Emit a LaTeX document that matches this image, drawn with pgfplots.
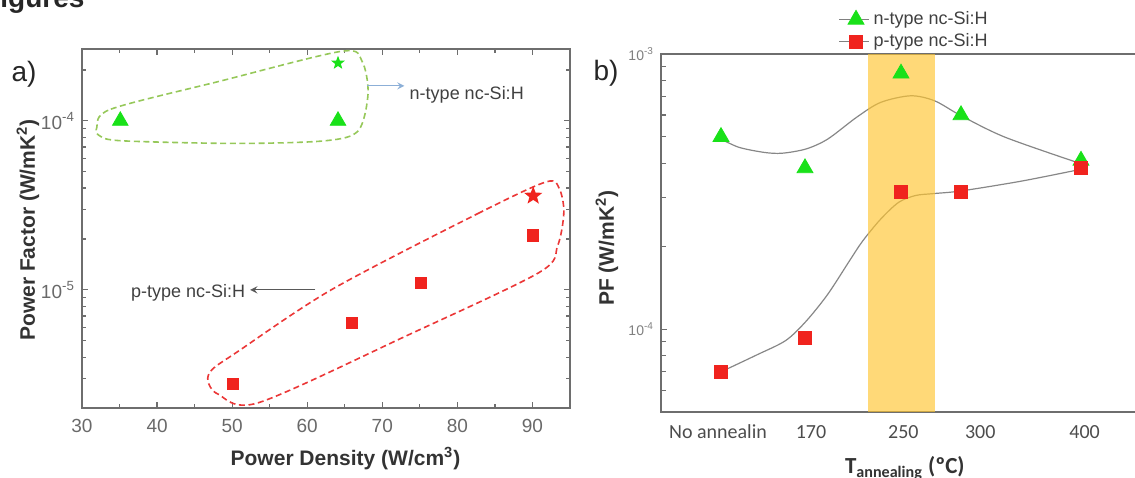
\documentclass[border=0pt]{standalone}
\usepackage{pgfplots}
\pgfplotsset{compat=1.18}
\usepackage{fontspec}
\setmainfont{Liberation Sans}
\newfontfamily\calibri{Carlito}

\definecolor{ngreen}{RGB}{25,225,25}
\definecolor{pred}{RGB}{240,35,30}
\definecolor{loopgreen}{RGB}{150,200,90}
\definecolor{loopred}{RGB}{235,55,55}
\definecolor{axgray}{RGB}{110,110,110}
\definecolor{lblgray}{RGB}{105,105,105}
\definecolor{band}{RGB}{255,197,47}
\definecolor{fitgray}{RGB}{135,135,135}
\definecolor{arrblue}{RGB}{140,175,215}

% filled five-pointed star
\pgfdeclareplotmark{fstar}{%
  \pgfpathmoveto{\pgfqpointpolar{90}{\pgfplotmarksize}}%
  \pgfpathlineto{\pgfqpointpolar{126}{0.42\pgfplotmarksize}}%
  \pgfpathlineto{\pgfqpointpolar{162}{\pgfplotmarksize}}%
  \pgfpathlineto{\pgfqpointpolar{198}{0.42\pgfplotmarksize}}%
  \pgfpathlineto{\pgfqpointpolar{234}{\pgfplotmarksize}}%
  \pgfpathlineto{\pgfqpointpolar{270}{0.42\pgfplotmarksize}}%
  \pgfpathlineto{\pgfqpointpolar{306}{\pgfplotmarksize}}%
  \pgfpathlineto{\pgfqpointpolar{342}{0.42\pgfplotmarksize}}%
  \pgfpathlineto{\pgfqpointpolar{18}{\pgfplotmarksize}}%
  \pgfpathlineto{\pgfqpointpolar{54}{0.42\pgfplotmarksize}}%
  \pgfpathclose\pgfusepathqfill}

\begin{document}
\begin{tikzpicture}
\path[use as bounding box] (0,0) rectangle (567.5pt,-238.5pt);
\clip (0,0) rectangle (567.5pt,-238.5pt);

\node[anchor=base west, inner sep=0, font=\bfseries\fontsize{14}{16}\selectfont, text=black!85] at (0pt,-3.5pt) {igures};
\node[font=\fontsize{14}{16}\selectfont, text=black!85] at (12pt,-37pt) {a)};
\node[font=\fontsize{14}{16}\selectfont, text=black!85] at (303pt,-36.5pt) {b)};

% ---------- panel a
\begin{axis}[
  at={(41pt,-204pt)}, anchor=south west, scale only axis,
  width=244pt, height=179.5pt,
  xmin=30, xmax=95, ymode=log, ymin=2e-6, ymax=2.66e-4,
  xtick={30,40,...,90}, minor xtick={35,45,...,95},
  ytick={1e-5,1e-4}, yticklabels={10\textsuperscript{-5},10\textsuperscript{-4}},
  minor ytick={3e-6,4e-6,5e-6,6e-6,7e-6,8e-6,9e-6,2e-5,3e-5,4e-5,5e-5,6e-5,7e-5,8e-5,9e-5,2e-4},
  tick align=inside, major tick length=3pt, minor tick length=1.8pt,
  axis line style={axgray, line width=0.9pt},
  tick style={axgray, line width=0.6pt},
  /pgf/number format/assume math mode=true,
  tick label style={font=\fontsize{9.5}{11}\selectfont, text=lblgray},
  xticklabel style={yshift=-2pt},
  xlabel={Power Density (W/cm\textsuperscript{3})},
  ylabel={Power Factor (W/mK\textsuperscript{2})},
  xlabel style={font=\bfseries\fontsize{10.5}{12}\selectfont, text=black!80, at={(axis description cs:0.54,-0.159)}, anchor=base},
  ylabel style={font=\bfseries\fontsize{10.5}{12}\selectfont, text=black!80, at={(axis description cs:-0.111,0.496)}, anchor=center},
]
\addplot[only marks, mark=triangle*, mark size=4.5pt, color=ngreen] coordinates {(35.1,1e-4) (64.1,1e-4)};
\addplot[only marks, mark=fstar, mark size=3.6pt, color=ngreen] coordinates {(64.1,2.2e-4)};
\addplot[only marks, mark=square*, mark size=2.8pt, color=pred] coordinates {(50.1,2.77e-6) (65.9,6.4e-6) (75.15,1.1e-5) (90.1,2.1e-5)};
\addplot[only marks, mark=fstar, mark size=4.8pt, color=pred] coordinates {(90.1,3.6e-5)};

\draw[loopgreen, line width=0.8pt, dash pattern=on 3pt off 1.8pt] plot[smooth cycle] coordinates {
  (axis cs:31.97,9.13e-5) (axis cs:33.84,1.172e-4) (axis cs:48.59,1.726e-4) (axis cs:64.6,2.58e-4)
  (axis cs:67.3,2.25e-4) (axis cs:68.1,1.45e-4) (axis cs:66.79,8.73e-5) (axis cs:62.36,7.62e-5)
  (axis cs:50.56,7.35e-5) (axis cs:35.31,7.62e-5) (axis cs:32.36,8.15e-5)};
\draw[loopred, line width=0.8pt, dash pattern=on 3pt off 1.8pt] plot[smooth cycle] coordinates {
  (axis cs:91.87,4.36e-5) (axis cs:83.02,2.87e-5) (axis cs:63.34,1.009e-5) (axis cs:50.56,4.26e-6)
  (axis cs:47.36,3.39e-6) (axis cs:46.77,2.90e-6) (axis cs:48.10,2.42e-6) (axis cs:53.51,2.15e-6)
  (axis cs:73.18,5.34e-6) (axis cs:90.89,1.267e-5) (axis cs:93.35,1.82e-5) (axis cs:94.18,2.87e-5)
  (axis cs:93.59,3.95e-5)};

\draw[arrblue, line width=0.6pt, -stealth] (axis cs:68.0,1.61e-4) -- (axis cs:72.95,1.61e-4);
\node[anchor=base west, inner sep=0, font=\fontsize{9}{10}\selectfont, text=black!75] at (axis cs:73.6,1.33e-4) {n-type nc-Si:H};
\draw[black!65, line width=0.6pt, -stealth] (axis cs:61.1,1e-5) -- (axis cs:52.4,1e-5);
\node[anchor=base east, inner sep=0, font=\fontsize{9}{10}\selectfont, text=black!75] at (axis cs:51.8,8.97e-6) {p-type nc-Si:H};
\end{axis}

% ---------- panel b
\begin{axis}[
  at={(330.5pt,-206pt)}, anchor=south west, scale only axis,
  width=240pt, height=179pt,
  xmin=50, xmax=450, ymode=log, ymin=5e-5, ymax=1e-3,
  xtick={97.5,175,252,316,403},
  xticklabels={No annealin,170,250,300,400},
  major x tick style={draw=none},
  ytick={1e-4,1e-3}, yticklabels={10\textsuperscript{-4},10\textsuperscript{-3}},
  minor ytick={6e-5,7e-5,8e-5,9e-5,2e-4,3e-4,4e-4,5e-4,6e-4,7e-4,8e-4,9e-4},
  ytick pos=left, tick align=inside, major tick length=3pt, minor tick length=2.5pt,
  axis line style={axgray, line width=0.9pt},
  tick style={axgray, line width=0.6pt},
  /pgf/number format/assume math mode=true,
  xticklabel style={font=\calibri\fontsize{10}{12}\selectfont, text=black!70, yshift=-3pt},
  yticklabel style={font=\fontsize{7}{8}\selectfont, text=black!50},
  xlabel={T\textsubscript{annealing} (ºC)},
  ylabel={PF (W/mK\textsuperscript{2})},
  xlabel style={font=\calibri\bfseries\fontsize{11.5}{13}\selectfont, text=black!80, at={(axis description cs:0.508,-0.172)}, anchor=base},
  ylabel style={font=\bfseries\fontsize{10.5}{12}\selectfont, text=black!80, at={(axis description cs:-0.1125,0.458)}, anchor=center},
  legend style={at={(axis description cs:0.369,1.131)}, anchor=north west, draw=none, fill=none,
    font=\fontsize{9}{10}\selectfont, text=black!75, inner sep=0pt, row sep=-1pt},
  legend cell align=left,
  legend image code/.code={\draw[black!50, line width=0.5pt] (0pt,0pt)--(5.5pt,0pt) (11.5pt,0pt)--(15pt,0pt);
    \draw[#1] plot coordinates {(8.5pt,0pt)};},
]
\addplot[fitgray, line width=0.6pt, smooth, forget plot] coordinates {
  (100,4.91e-4) (115,4.58e-4) (136,4.39e-4) (151,4.36e-4) (171,4.52e-4) (189,4.91e-4) (213,5.89e-4)
  (233,6.67e-4) (258,7.05e-4) (278,6.76e-4) (300,5.97e-4) (337,4.98e-4) (401,3.98e-4)};
\addplot[fitgray, line width=0.6pt, smooth, forget plot] coordinates {
  (100,7.0e-5) (130,8.07e-5) (154,9.1e-5) (171,1.07e-4) (189,1.34e-4) (207,1.77e-4) (218,2.09e-4)
  (233,2.51e-4) (248,2.89e-4) (262,3.06e-4) (277,3.11e-4) (300,3.18e-4) (350,3.45e-4) (401,3.82e-4)};
\addplot[only marks, mark=triangle*, mark size=4.6pt, color=ngreen] coordinates {
  (100,5e-4) (170,3.85e-4) (250,8.5e-4) (300,6e-4) (400,4.1e-4)};
\addlegendentry{n-type nc-Si:H}
\addplot[only marks, mark=square*, mark size=3.3pt, color=pred] coordinates {
  (100,7e-5) (170,9.3e-5) (250,3.15e-4) (300,3.15e-4) (400,3.85e-4)};
\addlegendentry{p-type nc-Si:H}
\addplot[draw=none, fill=band, fill opacity=0.65, forget plot] coordinates {
  (222.5,5e-5) (222.5,1e-3) (278.5,1e-3) (278.5,5e-5)} -- cycle;
\end{axis}
\end{tikzpicture}
\end{document}
